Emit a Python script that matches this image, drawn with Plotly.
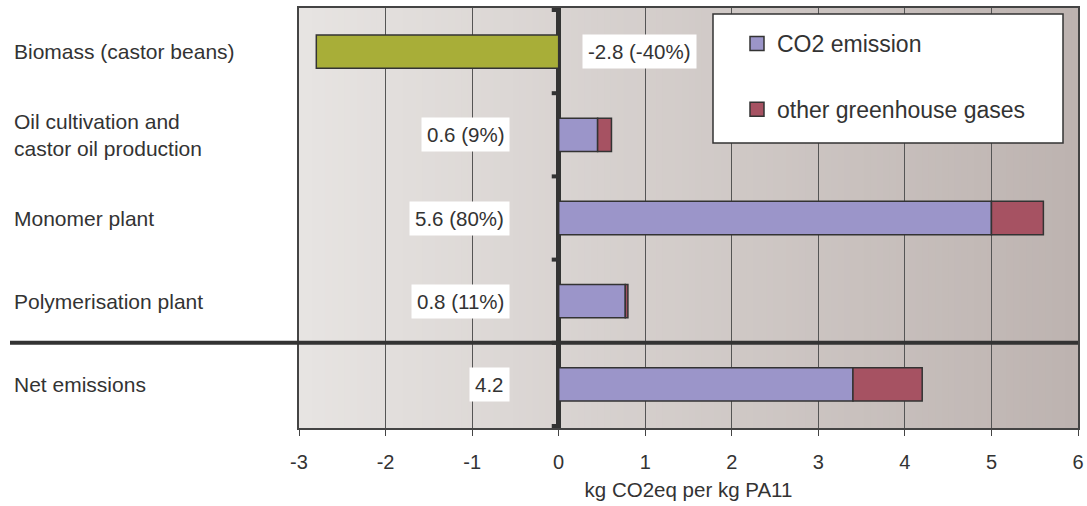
import plotly.graph_objects as go

# ---------------- data ----------------
categories = [
    "Biomass (castor beans)",
    "Oil cultivation and<br>castor oil production",
    "Monomer plant",
    "Polymerisation plant",
    "Net emissions",
]
biomass = [-2.8, None, None, None, None]
co2_emission = [None, 0.45, 5.0, 0.77, 3.4]
other_ghg = [None, 0.16, 0.6, 0.03, 0.8]
value_labels = ["-2.8 (-40%)", "0.6 (9%)", "5.6 (80%)", "0.8 (11%)", "4.2"]
x_ticks = [-3, -2, -1, 0, 1, 2, 3, 4, 5, 6]
axis_title = "kg CO2eq per kg PA11"

# ---------------- styles ----------------
FONT = "Liberation Sans, Arial, Helvetica, sans-serif"
TXT = "#333333"
EDGE = "#333333"
GREEN = "#A8AE38"
BLUE = "#9B95C9"
RED = "#A65262"
W, H = 1087, 506
ML, MR, MT, MB = 299, 9, 8, 78

fig = go.Figure()
fig.add_trace(go.Bar(
    y=categories, x=biomass, orientation="h", width=0.4,
    marker=dict(color=GREEN, line=dict(color=EDGE, width=1.5)),
    showlegend=False, name="Biomass",
))
series = [("CO2 emission", co2_emission, BLUE, "a"),
          ("other greenhouse gases", other_ghg, RED, "b")]
for name, vals, col, grp in series:
    fig.add_trace(go.Bar(
        y=categories, x=vals, orientation="h", width=0.4,
        marker=dict(color=col, line=dict(color=EDGE, width=1.5)),
        name=name, legendgroup=grp, showlegend=False,
    ))
    # legend entry with a larger square symbol
    fig.add_trace(go.Scatter(
        x=[None], y=[None], mode="markers", name=name, legendgroup=grp,
        marker=dict(symbol="square", size=14, color=col, line=dict(color=EDGE, width=1.5)),
        hoverinfo="skip",
    ))

pw = W - ML - MR
ph = H - MT - MB

shapes = []
# background gradient (decoration)
N = 120
c0 = (0xE7, 0xE4, 0xE2)
c1 = (0xBD, 0xB3, 0xB0)
for i in range(N):
    t = i / (N - 1)
    c = tuple(round(c0[k] + (c1[k] - c0[k]) * t) for k in range(3))
    shapes.append(dict(
        type="rect", xref="x domain", yref="y domain",
        x0=i / N, x1=(i + 1.6) / N if i < N - 1 else 1, y0=0, y1=1,
        fillcolor="rgb(%d,%d,%d)" % c, line=dict(width=0), layer="below",
    ))
# small ticks on the zero line at category boundaries
for b in range(len(categories) + 1):
    shapes.append(dict(
        type="line", xref="x", yref="y", x0=-0.08, x1=0,
        y0=b - 0.5, y1=b - 0.5, line=dict(color=EDGE, width=4), layer="above",
    ))
# separator above net emissions
shapes.append(dict(
    type="line", xref="paper", yref="y", x0=(10 - ML) / pw, x1=1.0,
    y0=len(categories) - 1.5, y1=len(categories) - 1.5,
    line=dict(color=EDGE, width=4), layer="above",
))
# legend box
shapes.append(dict(
    type="rect", xref="paper", yref="paper",
    x0=(713 - ML) / pw, x1=(1063 - ML) / pw,
    y0=(H - MB - 143) / ph, y1=(H - MB - 14) / ph,
    fillcolor="white", line=dict(color=EDGE, width=1.5), layer="above",
))

annotations = []
# category labels at left
for cat in categories:
    annotations.append(dict(
        x=(12 - ML) / pw, xref="paper", y=cat, yref="y",
        text=cat, showarrow=False, xanchor="left", align="left",
        font=dict(family=FONT, size=21, color=TXT),
    ))
# value labels
totals = []
for i in range(len(categories)):
    s = 0
    for arr in (biomass, co2_emission, other_ghg):
        if arr[i] is not None:
            s += arr[i]
    totals.append(s)
for cat, lab, tot in zip(categories, value_labels, totals):
    neg = tot < 0
    annotations.append(dict(
        x=0.27 if neg else -0.56, xref="x", y=cat, yref="y",
        text=lab, showarrow=False, xanchor="left" if neg else "right",
        bgcolor="white", borderpad=5,
        font=dict(family=FONT, size=20.5, color=TXT),
    ))

fig.update_layout(
    width=W, height=H, autosize=False,
    margin=dict(l=ML, r=MR, t=MT, b=MB, autoexpand=False),
    paper_bgcolor="white", plot_bgcolor="#DAD4D1",
    barmode="relative",
    font=dict(family=FONT, size=20, color=TXT),
    shapes=shapes, annotations=annotations,
    legend=dict(
        x=(737 - ML) / pw, xanchor="left", y=(H - MB - 22) / ph, yanchor="top",
        bgcolor="rgba(0,0,0,0)", font=dict(family=FONT, size=23, color=TXT),
        traceorder="grouped", tracegroupgap=33,
    ),
    xaxis=dict(
        range=[-3, 6], tickvals=x_ticks, ticktext=[str(v) for v in x_ticks],
        showgrid=True, gridcolor="#555555", gridwidth=1,
        zeroline=True, zerolinecolor=EDGE, zerolinewidth=5,
        showline=True, linecolor="#444444", linewidth=1.5, mirror=True,
        ticks="outside", ticklen=6, tickcolor="#444444",
        ticklabelstandoff=9,
        tickfont=dict(family=FONT, size=20, color=TXT),
        title=dict(text=axis_title, font=dict(family=FONT, size=20.5, color=TXT), standoff=11),
        automargin=False, fixedrange=True,
    ),
    yaxis=dict(
        categoryorder="array", categoryarray=categories, autorange="reversed",
        showticklabels=False, showgrid=False, zeroline=False,
        showline=True, linecolor="#444444", linewidth=1.5, mirror=True,
        ticks="", automargin=False, fixedrange=True,
    ),
)

fig.write_html("out.html", config={"displayModeBar": False},
               post_script="document.body.style.margin='0';")
